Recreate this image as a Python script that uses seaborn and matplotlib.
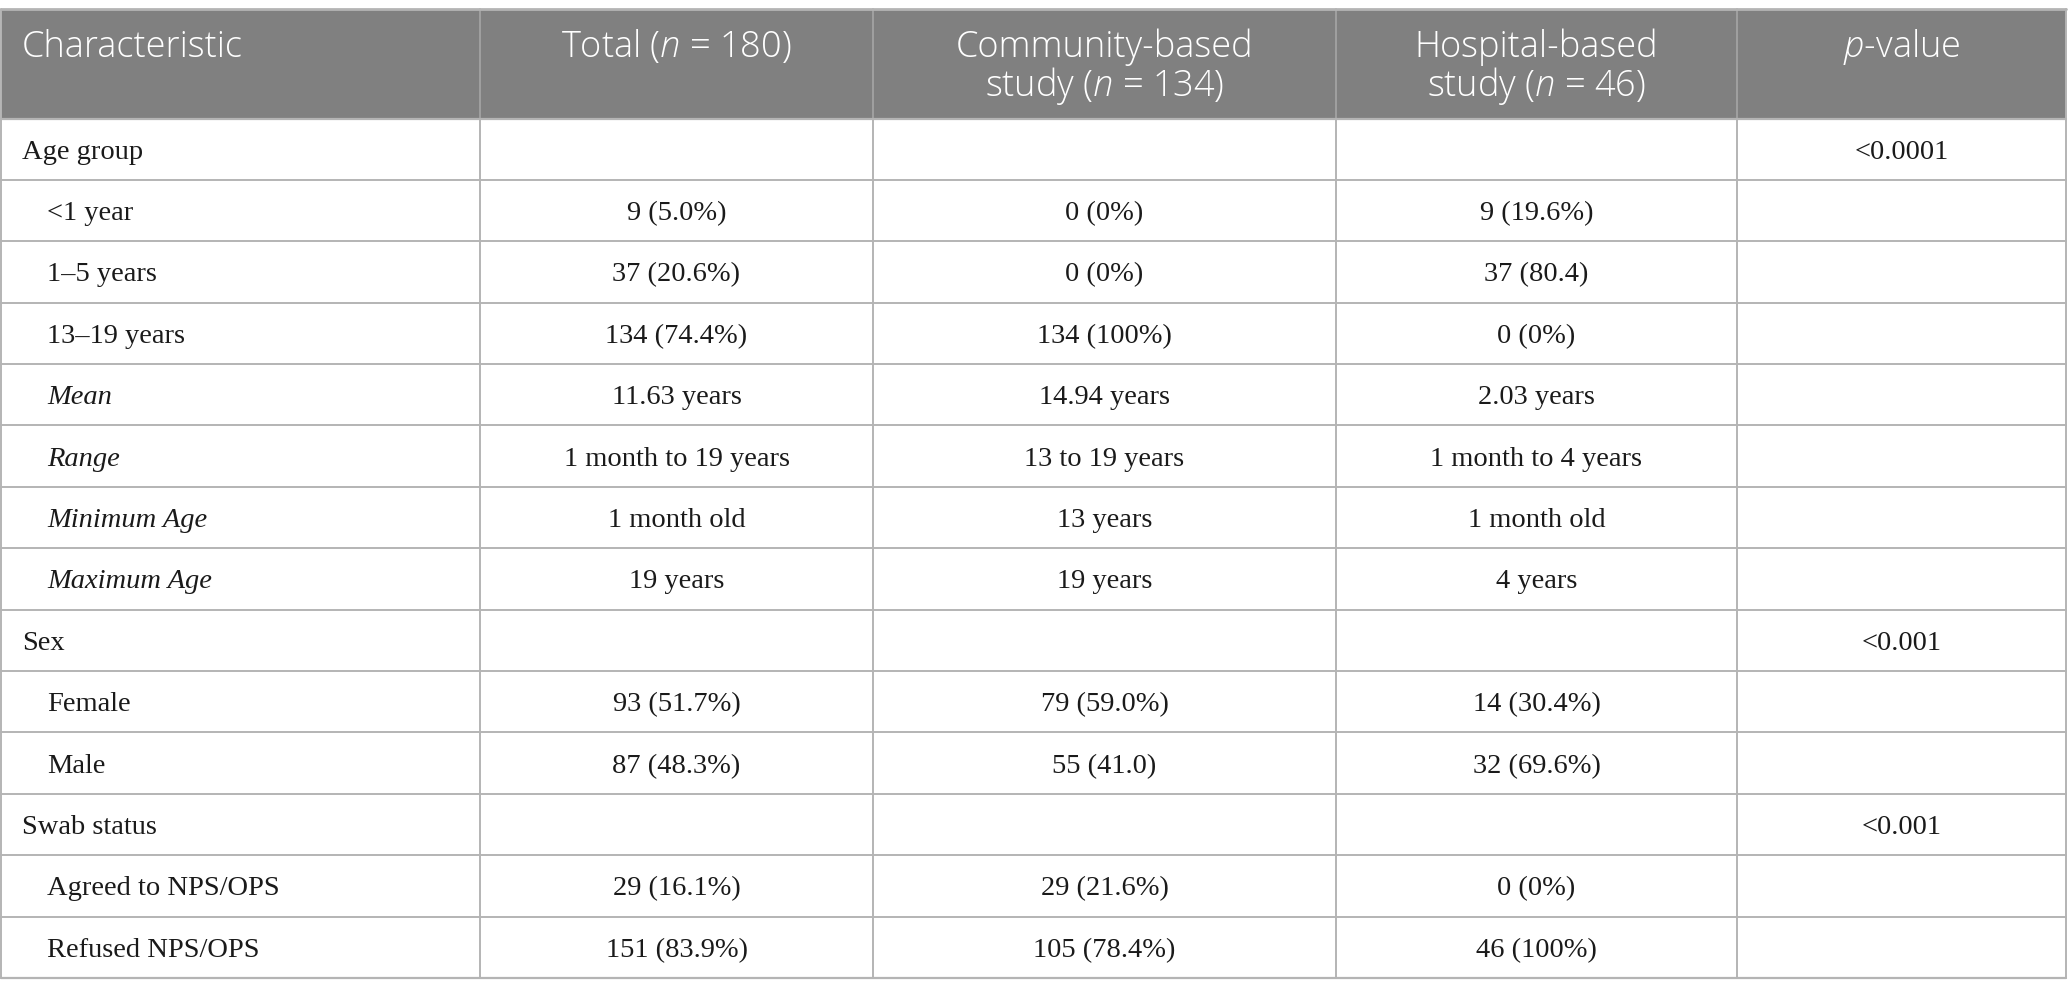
import matplotlib
matplotlib.use("Agg")
import matplotlib.pyplot as plt
import seaborn as sns
import numpy as np

# ---------------- data ----------------
header_lines = [
    ["Characteristic"],
    ["Total ($n$ = 180)"],
    ["Community-based", "study ($n$ = 134)"],
    ["Hospital-based", "study ($n$ = 46)"],
    ["$p$-value"],
]
row_labels = ["Age group", "<1 year", "1\u20135 years", "13\u201319 years", "Mean", "Range",
              "Minimum Age", "Maximum Age", "Sex", "Female", "Male", "Swab status",
              "Agreed to NPS/OPS", "Refused NPS/OPS"]
row_indent = [0, 1, 1, 1, 1, 1, 1, 1, 0, 1, 1, 0, 1, 1]
row_italic = [0, 0, 0, 0, 1, 1, 1, 1, 0, 0, 0, 0, 0, 0]
total_vals = ["", "9 (5.0%)", "37 (20.6%)", "134 (74.4%)", "11.63 years", "1 month to 19 years",
              "1 month old", "19 years", "", "93 (51.7%)", "87 (48.3%)", "", "29 (16.1%)", "151 (83.9%)"]
community_vals = ["", "0 (0%)", "0 (0%)", "134 (100%)", "14.94 years", "13 to 19 years",
                  "13 years", "19 years", "", "79 (59.0%)", "55 (41.0)", "", "29 (21.6%)", "105 (78.4%)"]
hospital_vals = ["", "9 (19.6%)", "37 (80.4)", "0 (0%)", "2.03 years", "1 month to 4 years",
                 "1 month old", "4 years", "", "14 (30.4%)", "32 (69.6%)", "", "0 (0%)", "46 (100%)"]
p_vals = ["<0.0001", "", "", "", "", "", "", "", "<0.001", "", "", "<0.001", "", ""]

# ---------------- layout ----------------
W, H = 2068, 996
col_edges = [1, 480, 873, 1336, 1737, 2066]
top, head_bot, bottom = 9, 118.5, 978
n_rows = len(row_labels)
row_h = (bottom - head_bot) / n_rows

sns.set_theme(style="white")
plt.rcParams["mathtext.fontset"] = "custom"
plt.rcParams["mathtext.rm"] = "Open Sans:light"
plt.rcParams["mathtext.it"] = "Open Sans:italic:light"

fig = plt.figure(figsize=(W / 100, H / 100), dpi=100)
ax = fig.add_axes([0, 0, 1, 1])
ax.set_xlim(0, W)
ax.set_ylim(H, 0)
ax.axis("off")

head_bg = "#808080"
line_c = "#b4b4b4"
head_sep = "#a3a3a3"

# header background
ax.fill_between([col_edges[0], col_edges[-1]], top, head_bot, color=head_bg, lw=0, zorder=1)
# header column separators
for x in col_edges[1:-1]:
    ax.plot([x, x], [top, head_bot], color=head_sep, lw=1.3, zorder=2)
# top border
ax.plot([col_edges[0], col_edges[-1]], [top, top], color=line_c, lw=2, zorder=3)

# body grid lines
for i in range(n_rows + 1):
    y = head_bot + i * row_h
    ax.plot([col_edges[0], col_edges[-1]], [y, y], color=line_c, lw=1.6 if i in (0, n_rows) else 1.4, zorder=3)
for x in col_edges:
    ax.plot([x, x], [head_bot, bottom], color=line_c, lw=1.4, zorder=3)
for x in (col_edges[0], col_edges[-1]):
    ax.plot([x, x], [top, head_bot], color=line_c, lw=1.4, zorder=3)

# header texts
hfs = 26
line_y = [47, 86]
for c, lines in enumerate(header_lines):
    for k, s in enumerate(lines):
        if c == 0:
            ax.text(22, line_y[k], s, ha="left", va="center", color="white",
                    fontsize=hfs, family="Open Sans", fontweight="light", zorder=5)
        else:
            xc = (col_edges[c] + col_edges[c + 1]) / 2
            ax.text(xc, line_y[k], s, ha="center", va="center", color="white",
                    fontsize=hfs, family="Open Sans", fontweight="light", zorder=5)

# body texts
bfs = 20.5
body_color = "#1a1a1a"
value_cols = [total_vals, community_vals, hospital_vals, p_vals]
for i, lab in enumerate(row_labels):
    yc = head_bot + (i + 0.5) * row_h + 3
    xl = 47 if row_indent[i] else 22
    ax.text(xl, yc, lab, ha="left", va="center", fontsize=bfs, family="Liberation Serif",
            style="italic" if row_italic[i] else "normal", color=body_color, zorder=5)
    for c, vals in enumerate(value_cols):
        if vals[i]:
            xc = (col_edges[c + 1] + col_edges[c + 2]) / 2
            ax.text(xc, yc, vals[i], ha="center", va="center", fontsize=bfs,
                    family="Liberation Serif", color=body_color, zorder=5)

fig.savefig("out.png", dpi=100, facecolor="white")
